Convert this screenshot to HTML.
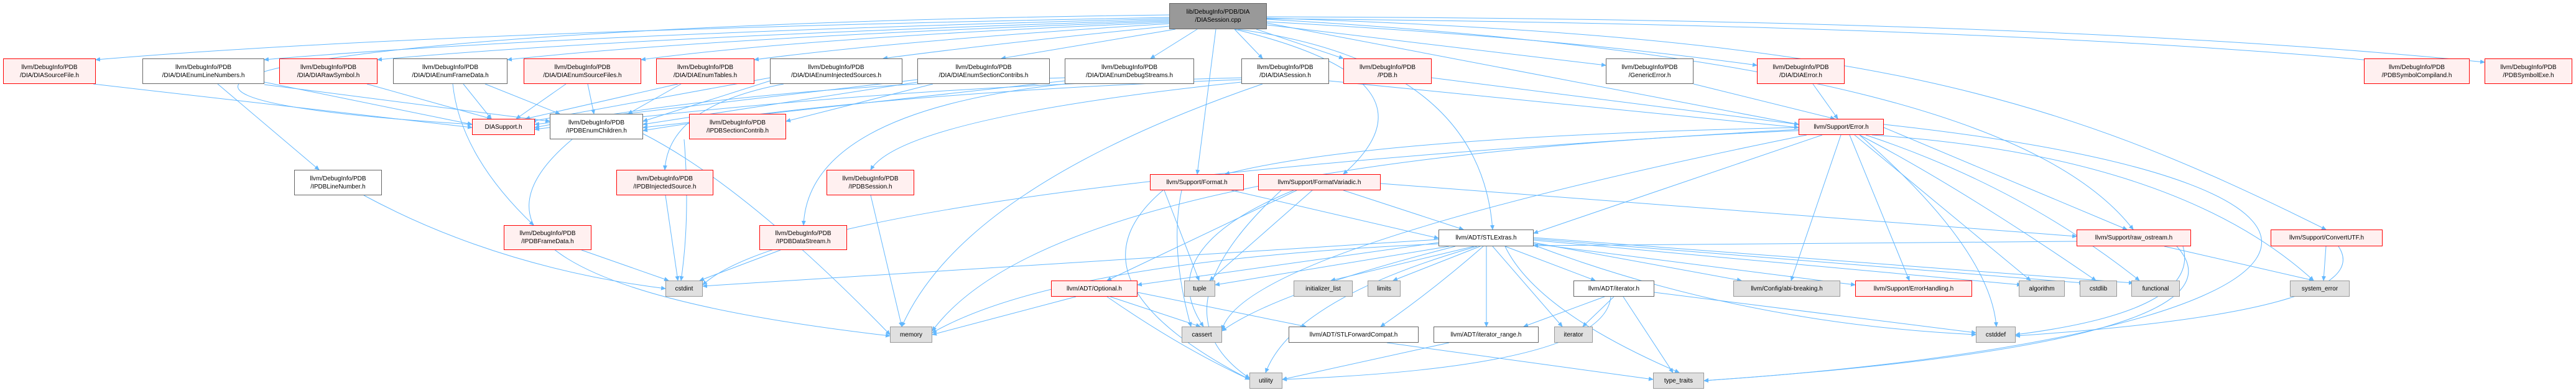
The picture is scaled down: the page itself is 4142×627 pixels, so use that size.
<!DOCTYPE html>
<html><head><meta charset="utf-8"><style>
html,body{margin:0;padding:0;background:#fff;}
#c{position:relative;width:4142px;height:627px;overflow:hidden;font-family:"Liberation Sans",Arial,sans-serif;}
.n{position:absolute;box-sizing:border-box;font-size:10px;line-height:13px;display:flex;align-items:center;justify-content:center;text-align:center;white-space:nowrap;color:#000;}
.w{background:#fff;border:1px solid #666;}
.r{background:#fff0f0;border:1px solid #f00;}
.g{background:#e0e0e0;border:1px solid #999;}
.m{background:#999;border:1px solid #666;}
svg{position:absolute;left:0;top:0;}
</style></head><body><div id="c">
<svg width="4142" height="627">
<defs><marker id="a" markerWidth="8" markerHeight="8" refX="7" refY="4" orient="auto" markerUnits="userSpaceOnUse"><path d="M0,0.5 L8,4 L0,7.5 z" fill="#63b8ff"/></marker></defs>
<g fill="none" stroke="#63b8ff" stroke-width="1" marker-end="url(#a)">
<path d="M1880,28 Q700,50 154,96"/>
<path d="M1880,30 Q900,55 425,96"/>
<path d="M1880,32 Q1000,60 607,96"/>
<path d="M1880,34 Q1150,60 816,96"/>
<path d="M1880,36 Q1300,60 1031,96"/>
<path d="M1880,38 Q1450,65 1213,96"/>
<path d="M1880,42 Q1600,70 1420,94"/>
<path d="M1890,47 L1610,94"/>
<path d="M1925,47 L1850,94"/>
<path d="M1985,47 L2030,94"/>
<path d="M2020,47 L2160,94"/>
<path d="M2037,40 L2582,105"/>
<path d="M2037,35 Q2500,60 2825,105"/>
<path d="M2037,30 Q3200,40 3844,100"/>
<path d="M2037,27 Q3300,30 3995,100"/>
<path d="M1880,24 C500,40 -50,150 759,200"/>
<path d="M1955,47 L1925,280"/>
<path d="M1985,47 Q2330,130 2160,280"/>
<path d="M1990,47 Q2380,100 2400,369"/>
<path d="M2037,37 L2892,200"/>
<path d="M2037,31 C2900,80 3300,200 3430,369"/>
<path d="M2037,29 C3000,60 3300,150 3740,369"/>
<path d="M150,135 L759,205"/>
<path d="M350,135 L513,273"/>
<path d="M425,132 L759,200"/>
<path d="M425,136 L884,195"/>
<path d="M590,135 L790,191"/>
<path d="M745,135 L790,191"/>
<path d="M780,135 L900,183"/>
<path d="M728,135 Q740,250 858,362"/>
<path d="M910,135 L830,191"/>
<path d="M945,135 L955,183"/>
<path d="M1090,135 L845,191"/>
<path d="M1095,135 L1010,183"/>
<path d="M1238,125 L855,195"/>
<path d="M1238,130 L1034,195"/>
<path d="M1260,135 Q1075,170 1069,273"/>
<path d="M1475,128 L860,200"/>
<path d="M1475,132 L1034,200"/>
<path d="M1500,135 L1264,195"/>
<path d="M1712,125 Q1200,140 860,205"/>
<path d="M1712,130 L1034,205"/>
<path d="M1712,135 Q1300,180 1292,362"/>
<path d="M1996,125 Q1400,140 860,208"/>
<path d="M1996,128 Q1400,150 1034,210"/>
<path d="M1996,132 Q1450,190 1400,273"/>
<path d="M2137,130 L2892,205"/>
<path d="M2030,135 Q1550,300 1450,525"/>
<path d="M2302,125 L2892,200"/>
<path d="M2723,135 L2950,191"/>
<path d="M2915,135 L2955,191"/>
<path d="M1100,224 Q1110,350 1095,451"/>
<path d="M920,224 Q650,450 1431,540"/>
<path d="M1034,215 Q1200,300 1431,538"/>
<path d="M585,314 Q800,430 1070,464"/>
<path d="M1070,314 L1090,451"/>
<path d="M935,402 L1075,451"/>
<path d="M1255,402 L1125,451"/>
<path d="M1400,314 L1450,525"/>
<path d="M2960,217 L2880,451"/>
<path d="M2974,217 L3070,451"/>
<path d="M2982,217 L3265,451"/>
<path d="M2990,217 Q3150,300 3370,451"/>
<path d="M3000,217 Q3250,300 3440,451"/>
<path d="M3010,217 Q3500,250 3720,451"/>
<path d="M3029,205 L3420,369"/>
<path d="M2990,217 Q3200,400 3210,525"/>
<path d="M3029,200 C3950,300 3800,540 2740,612"/>
<path d="M2930,217 L2466,375"/>
<path d="M2892,205 Q2200,220 1970,280"/>
<path d="M2892,210 Q1700,260 1499,532"/>
<path d="M2892,208 Q1300,300 1130,458"/>
<path d="M2905,217 Q2000,400 1965,530"/>
<path d="M1872,306 L1928,451"/>
<path d="M1900,306 Q1880,400 1915,525"/>
<path d="M1980,306 L2313,383"/>
<path d="M1870,306 Q1700,450 2009,610"/>
<path d="M2085,306 L1780,451"/>
<path d="M2110,306 L1945,451"/>
<path d="M2160,306 L2353,369"/>
<path d="M2080,306 Q1850,400 1935,525"/>
<path d="M2060,306 Q1850,500 2009,608"/>
<path d="M2220,295 L3339,380"/>
<path d="M2313,385 L1130,460"/>
<path d="M2313,390 L1829,458"/>
<path d="M2330,396 L1954,458"/>
<path d="M2370,396 L2140,451"/>
<path d="M2380,396 L2240,451"/>
<path d="M2420,396 L2565,451"/>
<path d="M2466,390 L2800,451"/>
<path d="M2466,392 L2983,458"/>
<path d="M2466,386 L3250,458"/>
<path d="M2466,384 L3350,455"/>
<path d="M2466,382 L3430,455"/>
<path d="M2313,392 Q1700,420 1499,535"/>
<path d="M2340,396 Q2050,470 1965,532"/>
<path d="M2385,396 Q2300,470 2220,525"/>
<path d="M2390,396 L2390,525"/>
<path d="M2400,396 L2512,525"/>
<path d="M2375,396 Q2080,480 2035,599"/>
<path d="M2420,396 Q2470,500 2700,599"/>
<path d="M2466,394 Q2800,520 3177,538"/>
<path d="M1730,477 L1499,538"/>
<path d="M1785,477 L1930,525"/>
<path d="M1829,470 L2100,525"/>
<path d="M1780,477 Q1900,560 2009,610"/>
<path d="M2580,477 L2450,525"/>
<path d="M2595,477 L2545,525"/>
<path d="M2610,477 L2690,599"/>
<path d="M2590,477 Q2580,590 2062,610"/>
<path d="M2660,470 L3177,535"/>
<path d="M2230,551 L2658,610"/>
<path d="M2330,551 L2062,610"/>
<path d="M3510,396 Q3540,500 3241,538"/>
<path d="M3480,396 L3720,451"/>
<path d="M3500,396 Q3640,550 2740,612"/>
<path d="M3339,388 L2466,395"/>
<path d="M3740,396 L3736,451"/>
<path d="M3760,396 Q3830,500 3241,540"/>
</g>
</svg>
<div class="n m" style="left:1880px;top:5px;width:157px;height:42px">lib/DebugInfo/PDB/DIA<br>/DIASession.cpp</div>
<div class="n r" style="left:5px;top:94px;width:149px;height:41px">llvm/DebugInfo/PDB<br>/DIA/DIASourceFile.h</div>
<div class="n w" style="left:229px;top:94px;width:196px;height:41px">llvm/DebugInfo/PDB<br>/DIA/DIAEnumLineNumbers.h</div>
<div class="n r" style="left:449px;top:94px;width:158px;height:41px">llvm/DebugInfo/PDB<br>/DIA/DIARawSymbol.h</div>
<div class="n w" style="left:632px;top:94px;width:184px;height:41px">llvm/DebugInfo/PDB<br>/DIA/DIAEnumFrameData.h</div>
<div class="n r" style="left:842px;top:94px;width:189px;height:41px">llvm/DebugInfo/PDB<br>/DIA/DIAEnumSourceFiles.h</div>
<div class="n r" style="left:1055px;top:94px;width:158px;height:41px">llvm/DebugInfo/PDB<br>/DIA/DIAEnumTables.h</div>
<div class="n w" style="left:1238px;top:94px;width:213px;height:41px">llvm/DebugInfo/PDB<br>/DIA/DIAEnumInjectedSources.h</div>
<div class="n w" style="left:1475px;top:94px;width:213px;height:41px">llvm/DebugInfo/PDB<br>/DIA/DIAEnumSectionContribs.h</div>
<div class="n w" style="left:1712px;top:94px;width:208px;height:41px">llvm/DebugInfo/PDB<br>/DIA/DIAEnumDebugStreams.h</div>
<div class="n w" style="left:1996px;top:94px;width:141px;height:41px">llvm/DebugInfo/PDB<br>/DIA/DIASession.h</div>
<div class="n r" style="left:2160px;top:94px;width:142px;height:41px">llvm/DebugInfo/PDB<br>/PDB.h</div>
<div class="n w" style="left:2582px;top:94px;width:141px;height:41px">llvm/DebugInfo/PDB<br>/GenericError.h</div>
<div class="n r" style="left:2825px;top:94px;width:141px;height:41px">llvm/DebugInfo/PDB<br>/DIA/DIAError.h</div>
<div class="n r" style="left:3801px;top:94px;width:170px;height:41px">llvm/DebugInfo/PDB<br>/PDBSymbolCompiland.h</div>
<div class="n r" style="left:3995px;top:94px;width:141px;height:41px">llvm/DebugInfo/PDB<br>/PDBSymbolExe.h</div>
<div class="n r" style="left:759px;top:191px;width:101px;height:26px">DIASupport.h</div>
<div class="n w" style="left:884px;top:183px;width:150px;height:41px">llvm/DebugInfo/PDB<br>/IPDBEnumChildren.h</div>
<div class="n r" style="left:1108px;top:183px;width:156px;height:41px">llvm/DebugInfo/PDB<br>/IPDBSectionContrib.h</div>
<div class="n r" style="left:2892px;top:191px;width:137px;height:26px">llvm/Support/Error.h</div>
<div class="n w" style="left:473px;top:273px;width:141px;height:41px">llvm/DebugInfo/PDB<br>/IPDBLineNumber.h</div>
<div class="n r" style="left:991px;top:273px;width:156px;height:41px">llvm/DebugInfo/PDB<br>/IPDBInjectedSource.h</div>
<div class="n r" style="left:1329px;top:273px;width:141px;height:41px">llvm/DebugInfo/PDB<br>/IPDBSession.h</div>
<div class="n r" style="left:1849px;top:280px;width:151px;height:26px">llvm/Support/Format.h</div>
<div class="n r" style="left:2023px;top:280px;width:197px;height:26px">llvm/Support/FormatVariadic.h</div>
<div class="n r" style="left:810px;top:362px;width:141px;height:40px">llvm/DebugInfo/PDB<br>/IPDBFrameData.h</div>
<div class="n r" style="left:1221px;top:362px;width:141px;height:40px">llvm/DebugInfo/PDB<br>/IPDBDataStream.h</div>
<div class="n w" style="left:2313px;top:369px;width:153px;height:27px">llvm/ADT/STLExtras.h</div>
<div class="n r" style="left:3339px;top:369px;width:184px;height:27px">llvm/Support/raw_ostream.h</div>
<div class="n r" style="left:3651px;top:369px;width:180px;height:27px">llvm/Support/ConvertUTF.h</div>
<div class="n g" style="left:1070px;top:451px;width:60px;height:26px">cstdint</div>
<div class="n r" style="left:1690px;top:451px;width:139px;height:26px">llvm/ADT/Optional.h</div>
<div class="n g" style="left:1904px;top:451px;width:50px;height:26px">tuple</div>
<div class="n g" style="left:2080px;top:451px;width:95px;height:26px">initializer_list</div>
<div class="n g" style="left:2199px;top:451px;width:53px;height:26px">limits</div>
<div class="n w" style="left:2530px;top:451px;width:130px;height:26px">llvm/ADT/iterator.h</div>
<div class="n g" style="left:2787px;top:451px;width:172px;height:26px">llvm/Config/abi-breaking.h</div>
<div class="n r" style="left:2983px;top:451px;width:188px;height:26px">llvm/Support/ErrorHandling.h</div>
<div class="n g" style="left:3246px;top:451px;width:74px;height:26px">algorithm</div>
<div class="n g" style="left:3344px;top:451px;width:60px;height:26px">cstdlib</div>
<div class="n g" style="left:3427px;top:451px;width:78px;height:26px">functional</div>
<div class="n g" style="left:3682px;top:451px;width:96px;height:26px">system_error</div>
<div class="n g" style="left:1431px;top:525px;width:68px;height:26px">memory</div>
<div class="n g" style="left:1900px;top:525px;width:65px;height:26px">cassert</div>
<div class="n w" style="left:2072px;top:525px;width:209px;height:26px">llvm/ADT/STLForwardCompat.h</div>
<div class="n w" style="left:2305px;top:525px;width:169px;height:26px">llvm/ADT/iterator_range.h</div>
<div class="n g" style="left:2499px;top:525px;width:62px;height:26px">iterator</div>
<div class="n g" style="left:3177px;top:525px;width:64px;height:26px">cstddef</div>
<div class="n g" style="left:2009px;top:599px;width:53px;height:26px">utility</div>
<div class="n g" style="left:2658px;top:599px;width:82px;height:26px">type_traits</div>
</div></body></html>
